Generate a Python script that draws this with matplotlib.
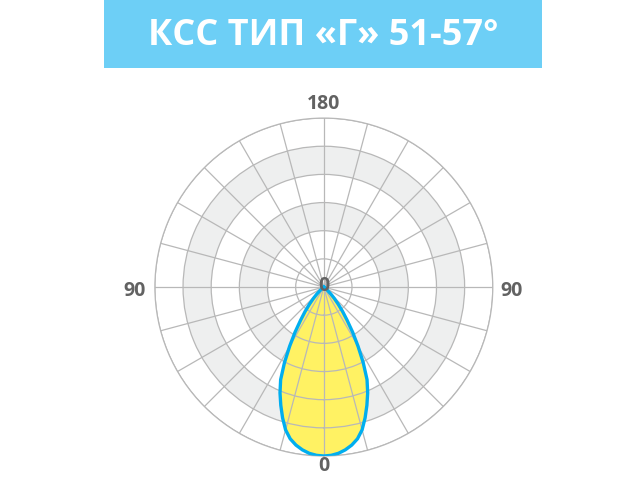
import numpy as np
import matplotlib.pyplot as plt
from matplotlib.patches import Rectangle

# light distribution curve (relative intensity), symmetric about 0
angles = [0, 2.5, 5, 7.5, 10, 12.5, 15, 17.5, 20, 22.5, 25, 27.5, 30, 32.5, 35,
          37.5, 40, 42.5, 45, 47.5, 50, 55, 90]
intensity = [1.000, 0.997, 0.988, 0.972, 0.950, 0.920, 0.875, 0.812, 0.745, 0.678,
             0.605, 0.505, 0.405, 0.318, 0.240, 0.182, 0.132, 0.092, 0.058, 0.030,
             0.012, 0.0, 0.0]
ring_levels = [1/6, 2/6, 3/6, 4/6, 5/6, 1.0]
shaded_bands = [(2/6, 3/6), (4/6, 5/6)]
title = "КСС ТИП «Г» 51-57°"

gray = "#b8b8b8"
label_col = "#626262"

fig = plt.figure(figsize=(6.4, 4.8), dpi=100)
fig.patch.set_facecolor("white")

# banner
fig.patches.append(Rectangle((0.1625, 0.858), 0.684, 0.142, transform=fig.transFigure,
                             facecolor="#6dcff6", edgecolor="none"))
fig.text(0.505, 0.925, title, color="white", fontsize=26, fontweight="bold",
         family="Open Sans", ha="center", va="center")

ax = fig.add_axes([0.242, 0.05, 0.528, 0.704], projection="polar")
ax.set_theta_zero_location("S")
ax.set_theta_direction(1)
ax.set_ylim(0, 1)

for r0, r1 in shaded_bands:
    ax.bar(0, r1 - r0, width=2 * np.pi, bottom=r0, color="#eeefef", edgecolor="none", zorder=0.1)

ax.set_rticks(ring_levels)
ax.set_yticklabels([])
ax.set_thetagrids(np.arange(0, 360, 15), labels=[])
ax.grid(True, color=gray, linewidth=0.9)
ax.spines["polar"].set_color(gray)
ax.spines["polar"].set_linewidth(0.9)
ax.set_axisbelow(True)

a = np.array(angles, dtype=float)
v = np.array(intensity)
th = np.deg2rad(np.concatenate([-a[::-1], a[1:]]))
rr = np.concatenate([v[::-1], v[1:]])
ax.fill(th, rr, color="#fff263", edgecolor="none", zorder=0.2)
ax.plot(th, rr, color="#00aeef", linewidth=2.4, zorder=3, solid_joinstyle="round")


def px(x, y):
    return x / 640, 1 - y / 480


lab = dict(color=label_col, fontsize=14, fontweight="bold", family="Open Sans",
           ha="center", va="center", zorder=5)
fig.text(*px(324, 104), "180", **lab)
fig.text(*px(135, 291), "90", **lab)
fig.text(*px(512, 291), "90", **lab)
fig.text(*px(324, 466), "0", **lab)
fig.text(*px(324, 286), "0", **lab)

fig.savefig("out.png", dpi=100)
